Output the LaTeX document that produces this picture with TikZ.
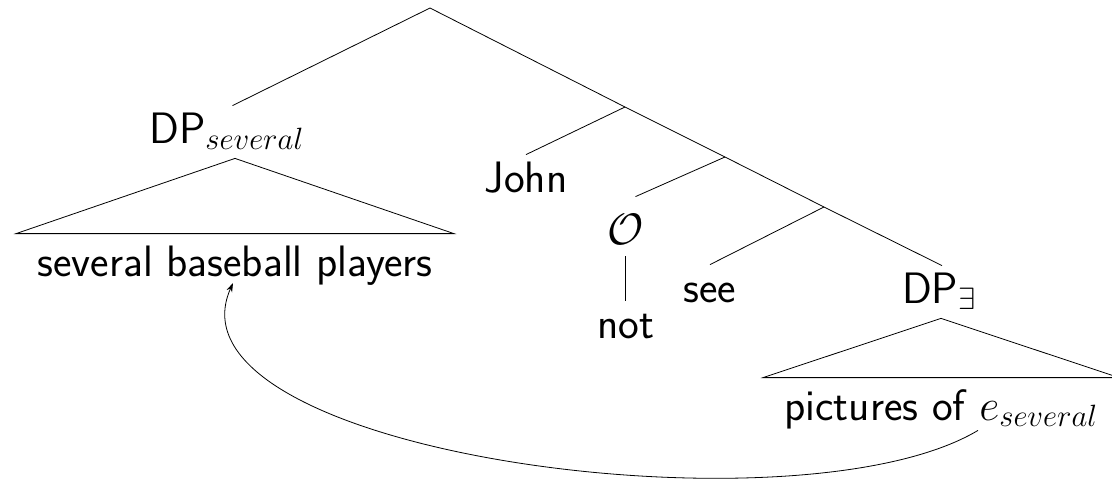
\RequirePackage{fix-cm}
\documentclass[tikz,border=0pt]{standalone}
\usetikzlibrary{arrows.meta}
\begin{document}
\begin{tikzpicture}[x=1pt,y=-1pt,
  line width=0.8pt,
  every node/.style={font=\sffamily\fontsize{44}{52}\selectfont},
  tnode/.style={anchor=base,text height=31pt,text depth=9pt,inner sep=6pt},
  leaf/.style={anchor=base,text height=31pt,text depth=9pt,inner ysep=11pt,inner xsep=21pt},
  mv/.style={-{Stealth[length=9pt,width=6pt]}}]
\useasboundingbox (0,0) rectangle (1112,483);

% branching points of the clause spine
\coordinate (root) at (430,8);
\coordinate (j1) at (625,107);
\coordinate (j2) at (725,157);
\coordinate (j3) at (824,207);

% labels
\node[tnode] (dps) at (226.5,143) {DP$_{several}$};
\node[tnode] (john) at (526,192) {John};
\node[tnode] (op) at (625.5,244) {$\mathcal{O}$};
\node[tnode] (not) at (625.5,338) {not};
\node[tnode] (see) at (710,302) {see};
\node[tnode] (dpe) at (939,303) {DP$_\exists$};

% leaves under triangles
\node[leaf] (lp) at (235,276) {several baseball players};
\node[leaf] (rp) at (941,420) {pictures of $e_{several}$};

% tree edges
\draw (root) -- ([xshift=6pt]dps.north);
\draw (root) -- (j1) -- (j2) -- (j3) -- ([xshift=3pt]dpe.north);
\draw (j1) -- (john.north);
\draw (j2) -- ([xshift=10pt,yshift=10pt]op.north);
\draw (j3) -- (see.north);
\draw ([yshift=3pt]op.south) -- (not.north);

% triangles
\draw (lp.north west) -- (lp.north |- dps.south) -- (lp.north east) -- cycle;
\draw (rp.north west) -- (rp.north |- dpe.south) -- (rp.north east) -- cycle;

% movement arrow
\draw[mv] ([xshift=37pt,yshift=10pt]rp.south)
  .. controls (798,538) and (156.5,453) .. ([xshift=-2pt,yshift=-7pt]lp.base);
\end{tikzpicture}
\end{document}
